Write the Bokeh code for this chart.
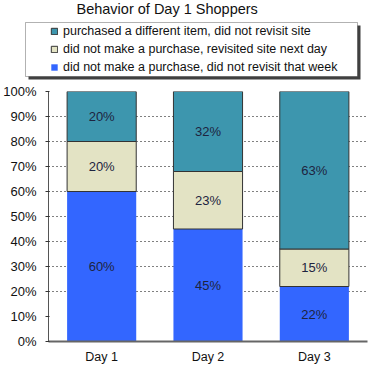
from bokeh.plotting import figure
from bokeh.layouts import column
from bokeh.models import (ColumnDataSource, FactorRange, Range1d, FixedTicker,
                          NumeralTickFormatter, Legend, LegendItem, Label, BoxAnnotation)
from bokeh.core.properties import value
from bokeh.embed import file_html
from bokeh.resources import INLINE

days = ["Day 1", "Day 2", "Day 3"]
not_revisit = [0.60, 0.45, 0.22]
revisited = [0.20, 0.23, 0.15]
purchased = [0.20, 0.32, 0.63]
series_names = ["did not make a purchase, did not revisit that week",
                "did not make a purchase, revisited site next day",
                "purchased a different item, did not revisit site"]
title_text = "Behavior of Day 1 Shoppers"
y_ticks = [0.0, 0.1, 0.2, 0.3, 0.4, 0.5, 0.6, 0.7, 0.8, 0.9, 1.0]
grid_ticks = [0.2, 0.3, 0.4, 0.5, 0.6, 0.7, 0.8, 0.9, 1.0]

FONT = "Liberation Sans"
colors = ["#3366FF", "#E3E3C4", "#3D96AE"]
line_colors = [None, "#333333", "#333333"]
keys = ["nr", "rv", "pu"]

W = 368
TOP_H = 83
BOT_H = 283

# ---------------- header figure: title + legend ----------------
top = figure(width=W, height=TOP_H, x_range=Range1d(0, W), y_range=Range1d(0, TOP_H),
             x_axis_location=None, y_axis_location=None,
             output_backend="svg", toolbar_location=None, frame_align=False,
             min_border_left=0, min_border_right=0, min_border_top=0, min_border_bottom=0)
top.grid.visible = False
top.outline_line_color = None
top.background_fill_color = "white"
top.border_fill_color = "white"

shadow = BoxAnnotation(left=28, right=360, top=58, bottom=4, left_units="screen",
                       right_units="screen", top_units="screen", bottom_units="screen",
                       fill_color="#404040", fill_alpha=1, line_color=None)
box = BoxAnnotation(left=25, right=357, top=61, bottom=7, left_units="screen",
                    right_units="screen", top_units="screen", bottom_units="screen",
                    fill_color="white", fill_alpha=1, line_color="#000000", line_width=1)
top.add_layout(shadow)
top.add_layout(box)

# legend-only renderers (no visible marks: NaN placeholders)
nan_src = ColumnDataSource(dict(x=[float("nan")], top=[float("nan")]))
dummies = [top.vbar(x="x", top="top", width=1, source=nan_src,
                    fill_color=colors[i], line_color=line_colors[i]) for i in range(3)]
items = [LegendItem(label=series_names[2], renderers=[dummies[2]]),
         LegendItem(label=series_names[1], renderers=[dummies[1]]),
         LegendItem(label=series_names[0], renderers=[dummies[0]])]
legend = Legend(items=items, location=(50, 8), orientation="vertical",
                border_line_color=None, background_fill_alpha=0, padding=0, margin=0,
                glyph_width=8, glyph_height=8, label_standoff=5, label_height=16,
                spacing=2, label_text_font=FONT, label_text_font_size="12.5px",
                label_text_color="#111111")
top.add_layout(legend, "center")

title = Label(x=76, y=75, x_units="screen", y_units="screen", text=title_text,
              text_align="left", text_baseline="middle", text_font=FONT,
              text_font_size="14.5px", text_color="#111111")
top.add_layout(title)

# ---------------- main chart ----------------
data = dict(day=days, nr=not_revisit, rv=revisited, pu=purchased)
source = ColumnDataSource(data)

p = figure(x_range=FactorRange(factors=days, range_padding=0),
           y_range=Range1d(0, 1), frame_align=False,
           width=W, height=BOT_H, output_backend="svg", toolbar_location=None,
           min_border_left=48, min_border_right=1, min_border_top=8, min_border_bottom=0)
p.outline_line_color = None
p.background_fill_color = "white"
p.border_fill_color = "white"

renderers = p.vbar_stack(keys, x="day", width=0.65, source=source,
                         fill_color=colors, line_color=line_colors, line_width=1)

lab_x, lab_y, lab_t = [], [], []
for i, d in enumerate(days):
    base = 0.0
    for arr in (not_revisit, revisited, purchased):
        v = arr[i]
        lab_x.append(d)
        lab_y.append(base + v / 2)
        lab_t.append(f"{round(v * 100)}%")
        base += v
p.text(x=lab_x, y=lab_y, text=lab_t, text_align="center", text_baseline="middle",
       text_font=value(FONT), text_font_size="13px", text_color="#1E2440")

p.yaxis.ticker = FixedTicker(ticks=y_ticks)
p.yaxis.formatter = NumeralTickFormatter(format="0%")
p.yaxis.major_label_text_font = FONT
p.yaxis.major_label_text_font_size = "13px"
p.yaxis.major_label_text_color = "#111111"
p.yaxis.major_tick_out = 3
p.yaxis.major_tick_in = 1
p.yaxis.minor_tick_line_color = None
p.yaxis.major_label_standoff = 9
p.yaxis.axis_line_color = "#555555"
p.yaxis.major_tick_line_color = "#333333"
p.yaxis.axis_label = None
p.yaxis.axis_label_standoff = 0

p.xaxis.major_tick_line_color = None
p.xaxis.major_tick_out = 0
p.xaxis.major_tick_in = 0
p.xaxis.minor_tick_line_color = None
p.xaxis.major_label_text_font = FONT
p.xaxis.major_label_text_font_size = "12.5px"
p.xaxis.major_label_text_color = "#111111"
p.xaxis.major_label_standoff = 8
p.xaxis.axis_line_color = "#666666"
p.xaxis.axis_line_width = 2
p.xaxis.axis_label = None
p.xaxis.axis_label_standoff = 0

p.xgrid.grid_line_color = None
p.ygrid.ticker = FixedTicker(ticks=grid_ticks)
p.ygrid.grid_line_color = "#000000"
p.ygrid.grid_line_dash = "1 3"
p.ygrid.grid_line_width = 1

layout = column(top, p, spacing=0)
open("out.html", "w").write(file_html(layout, INLINE))
